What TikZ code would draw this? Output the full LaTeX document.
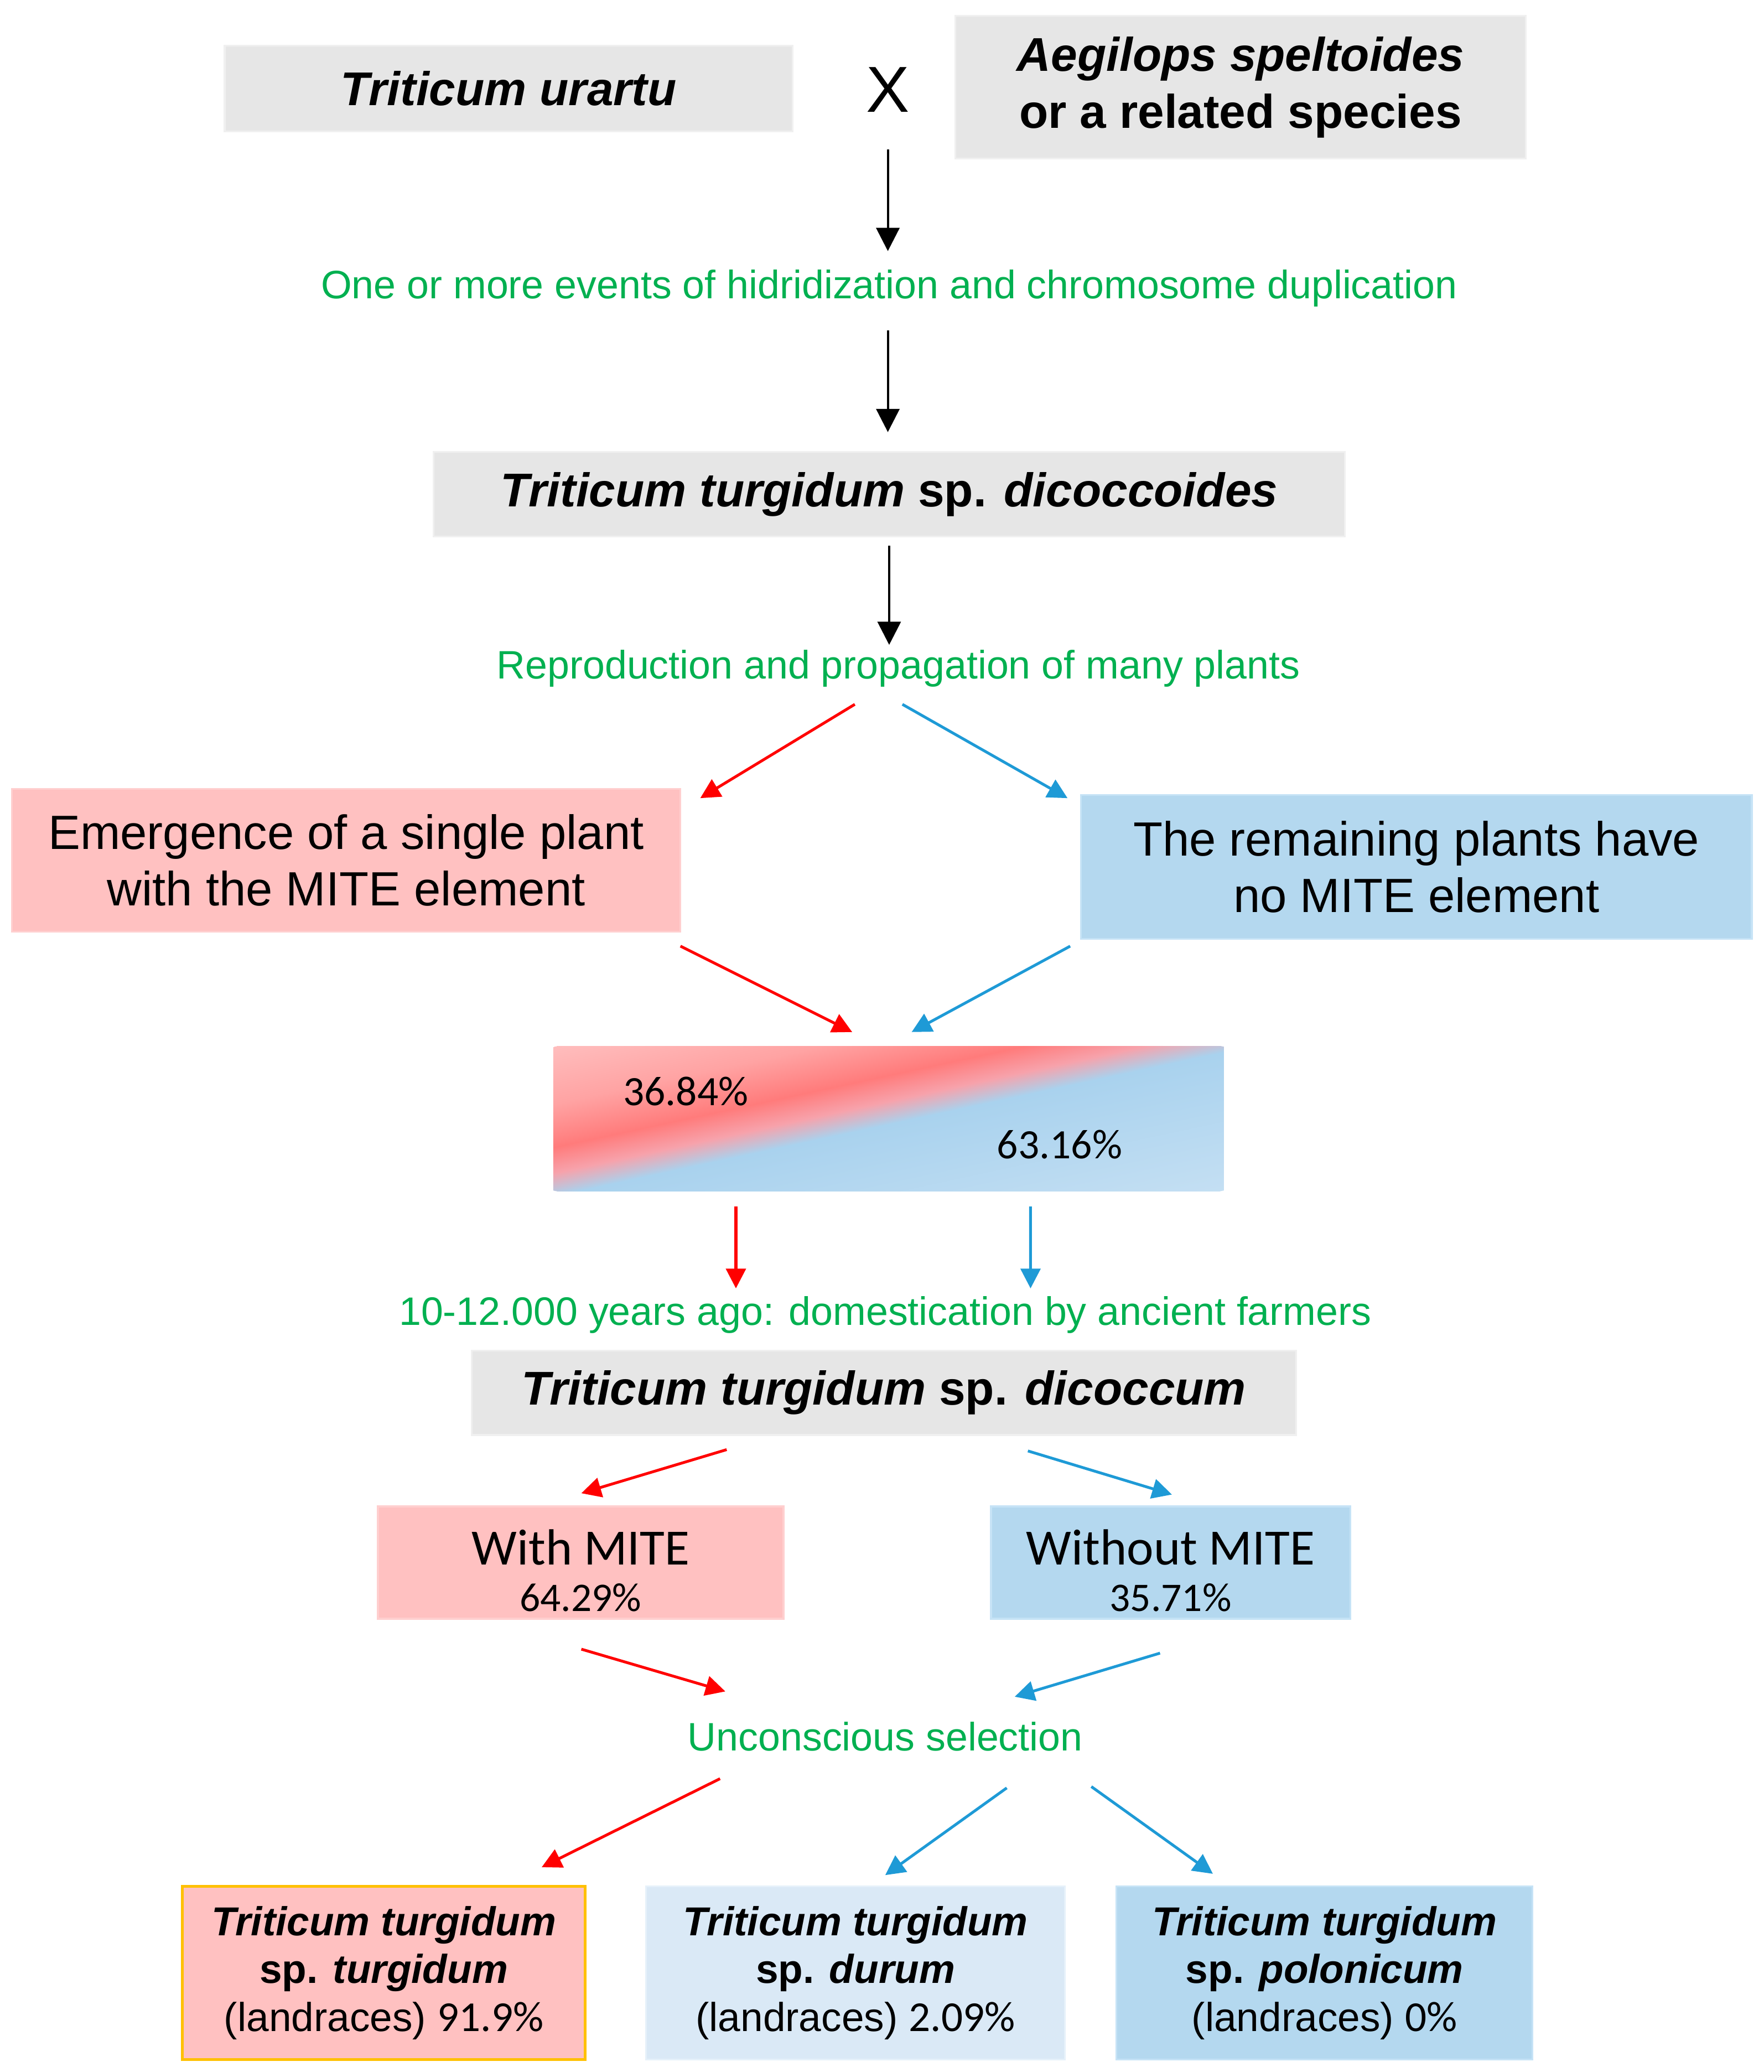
\documentclass[tikz,border=0pt]{standalone}
\usepackage{fontspec}
\setmainfont{Liberation Sans}
\newfontfamily\calibri{Carlito}
\usetikzlibrary{
  arrows.meta,
  positioning
}
\definecolor{evgreen}{HTML}{00B050}
\definecolor{mitered}{HTML}{FF0000}
\definecolor{miteblue}{HTML}{1E9AD6}
\definecolor{grayfill}{HTML}{E6E6E6}
\definecolor{grayline}{HTML}{F0F0F0}
\definecolor{pinkfill}{HTML}{FFC1C1}
\definecolor{pinkline}{HTML}{FFCFCF}
\definecolor{bluefill}{HTML}{B4D8EF}
\definecolor{blueline}{HTML}{C6E3F6}
\definecolor{palefill}{HTML}{DAE9F6}
\definecolor{paleline}{HTML}{E6F1FA}
\definecolor{goldline}{HTML}{FFC000}
\definecolor{splitpinkL}{HTML}{FFBDBD}
\definecolor{splitpinkA}{HTML}{FFA3A3}
\definecolor{splitred}{HTML}{FF7B7B}
\definecolor{splitpinkM}{HTML}{F7A2AB}
\definecolor{splitblue}{HTML}{A9D2EE}
\definecolor{splitblueL}{HTML}{C4DFF3}
\pgfdeclarehorizontalshading{mitesplit}{100bp}{color(0bp)=(splitpinkL); color(20bp)=(splitpinkA); color(35bp)=(splitred); color(44bp)=(splitpinkM); color(52bp)=(splitblue); color(100bp)=(splitblueL)}
\begin{document}
\begin{tikzpicture}[
      x=0.02cm, y=-0.02cm,
      species/.style={
         rectangle,
         inner sep=0pt,
         fill=grayfill,
         draw=grayline,
         line width=0.8pt,
         align=center,
         font=\fontsize{20.4}{24.6}\selectfont\bfseries\itshape
      },
      mite/.style={
         rectangle,
         inner sep=0pt,
         fill=pinkfill,
         draw=pinkline,
         line width=0.8pt,
         align=center,
         font=\fontsize{20.7}{24.4}\selectfont
      },
      nomite/.style={mite, fill=bluefill, draw=blueline},
      event/.style={inner sep=0pt, text=evgreen, font=\fontsize{17.1}{20}\selectfont},
      pct/.style={inner sep=0pt, font=\calibri\fontsize{18}{20}\selectfont},
      count/.style={font=\calibri\fontsize{21.9}{20}\selectfont},
      landrace/.style={
         rectangle,
         inner sep=0pt,
         line width=0.8pt,
         align=center,
         minimum height=2.62cm,
         font=\fontsize{17.4}{20.7}\selectfont\bfseries\itshape
      },
      tip/.style={-{Triangle[length=10pt,width=10pt]}, line width=0.95pt},
      red tip/.style={-{Triangle[length=8.5pt,width=8.5pt]}, line width=1.2pt, draw=mitered, fill=mitered},
      blue tip/.style={red tip, draw=miteblue, fill=miteblue}
    ]
    \useasboundingbox (0,0) rectangle (1335,1568);

    % parents
    \node (urartu) [species, minimum width=8.6cm, minimum height=1.3cm] at (385,67) {Triticum urartu};
    \node (cross) [inner sep=0pt, font=\fontsize{28}{30}\selectfont] at (672,68) {X};
    \node (aegilops) [species, minimum width=8.64cm, minimum height=2.16cm] at (939,66)
       {Aegilops speltoides\\{\upshape or a related species}};
    \node (events) [event] at (673,218) {One or more events of hidridization and chromosome duplication};
    \node (dicoccoides) [species, minimum width=13.8cm, minimum height=1.28cm] at (673,374)
       {Triticum turgidum {\upshape sp.} dicoccoides};
    \node (repro) [event] at (680,506) {Reproduction and propagation of many plants};

    % wild population
    \node (emerge) [mite, minimum width=10.12cm, minimum height=2.16cm] at (262,651)
       {Emergence of a single plant\\with the MITE element};
    \node (remain) [nomite, minimum width=10.16cm, minimum height=2.18cm] at (1072,656)
       {The remaining plants have\\no MITE element};
    \node (split) [rectangle, inner sep=0pt, minimum width=10.14cm, minimum height=2.18cm] at (672.5,846.5) {};
    \begin{scope}
       \clip (split.south west) rectangle (split.north east);
       \begin{scope}[shift={(split.center)}]
          \node (splitshade) [inner sep=0pt, xscale=4.065, yscale=0.874, rotate=-45] at (0,0) {\pgfuseshading{mitesplit}};
       \end{scope}
    \end{scope}
    \node (pct1) [pct] at (519,826) {36.84\%};
    \node (pct2) [pct] at (802,866) {63.16\%};

    % domestication
    \node (domest) [event] at (670,995) {10-12.000 years ago: domestication by ancient farmers};
    \node (dicoccum) [species, minimum width=12.48cm, minimum height=1.28cm] at (669,1054)
       {Triticum turgidum {\upshape sp.} dicoccum};
    \node (withm) [mite, count, minimum width=6.14cm, minimum height=1.7cm] at (439.5,1182.5)
       {\rule{0pt}{22pt}With MITE\\{\fontsize{17.5}{20}\selectfont 64.29\%}};
    \node (withoutm) [nomite, count, minimum width=5.44cm, minimum height=1.7cm] at (886,1182.5)
       {\rule{0pt}{22pt}Without MITE\\{\fontsize{17.5}{20}\selectfont 35.71\%}};
    \node (selection) [event] at (670,1314) {Unconscious selection};

    % landraces
    \node (turgidum) [landrace, fill=pinkfill, draw=goldline, line width=1.3pt, minimum width=6.1cm] at (290.5,1493)
       {Triticum turgidum\\{\upshape sp.} turgidum\\{\mdseries\upshape (landraces) {\calibri\fontsize{18.4}{20.7}\selectfont 91.9\%}}};
    \node (durum) [landrace, fill=palefill, draw=paleline, minimum width=6.34cm] at (647.5,1493)
       {Triticum turgidum\\{\upshape sp.} durum\\{\mdseries\upshape (landraces) {\calibri\fontsize{18.4}{20.7}\selectfont 2.09\%}}};
    \node (polonicum) [landrace, fill=bluefill, draw=blueline, minimum width=6.3cm] at (1002.5,1493)
       {Triticum turgidum\\{\upshape sp.} polonicum\\{\mdseries\upshape (landraces) {\calibri\fontsize{18.4}{20.7}\selectfont 0\%}}};

    % connectors
    \draw[tip] ([shift={(0,45)}]cross.center) -- ([shift={(-1,-28)}]events.center);
    \draw[tip] ([shift={(-1,32)}]events.center) -- ([shift={(-1,-47)}]dicoccoides.center);
    \draw[tip] ([shift={(0,39)}]dicoccoides.center) -- ([shift={(-7,-18)}]repro.center);
    \draw[red tip] ([shift={(-33,27)}]repro.center) -- ([shift={(268,-47)}]emerge.center);
    \draw[blue tip] ([shift={(3,27)}]repro.center) -- ([shift={(-264,-52)}]remain.center);
    \draw[red tip] ([shift={(253,65)}]emerge.center) -- ([shift={(-27.5,-65.5)}]split.center);
    \draw[blue tip] ([shift={(-262,60)}]remain.center) -- ([shift={(17.5,-65.5)}]split.center);
    \draw[red tip] ([shift={(-115.5,66.5)}]split.center) -- ([shift={(-113,-20)}]domest.center);
    \draw[blue tip] ([shift={(107.5,66.5)}]split.center) -- ([shift={(110,-20)}]domest.center);
    \draw[red tip] ([shift={(-119,43)}]dicoccum.center) -- ([shift={(0.5,-52.5)}]withm.center);
    \draw[blue tip] ([shift={(109,44)}]dicoccum.center) -- ([shift={(1,-51.5)}]withoutm.center);
    \draw[red tip] ([shift={(0.5,65.5)}]withm.center) -- ([shift={(-121,-34)}]selection.center);
    \draw[blue tip] ([shift={(-8,68.5)}]withoutm.center) -- ([shift={(98,-30)}]selection.center);
    \draw[red tip] ([shift={(-125,32)}]selection.center) -- ([shift={(119.5,-80)}]turgidum.center);
    \draw[blue tip] ([shift={(92,39)}]selection.center) -- ([shift={(22.5,-74)}]durum.center);
    \draw[blue tip] ([shift={(156,38)}]selection.center) -- ([shift={(-84.5,-75)}]polonicum.center);
\end{tikzpicture}
\end{document}
